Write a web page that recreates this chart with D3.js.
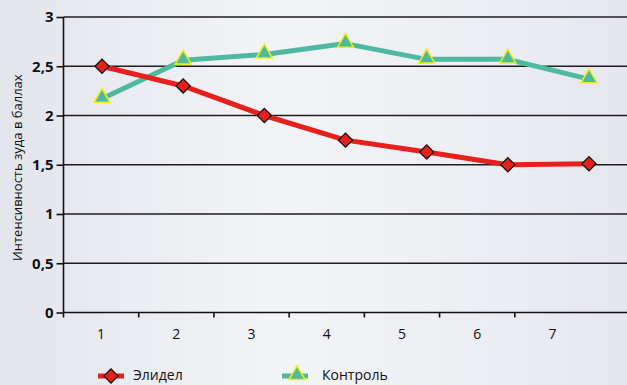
<!DOCTYPE html>
<html>
<head>
<meta charset="utf-8">
<script src="https://cdn.jsdelivr.net/npm/d3@7"></script>
<style>
  html, body { margin: 0; padding: 0; overflow: hidden; }
  svg { display: block; font-family: "Open Sans", "Noto Sans", sans-serif; }
</style>
</head>
<body>
<svg id="chart" width="627" height="385"></svg>
<script>
// Days of observation
const categories = [1, 2, 3, 4, 5, 6, 7];
// Itch intensity, points
const elidel  = [2.5, 2.3, 2.0, 1.75, 1.63, 1.5, 1.51];
const control = [2.17, 2.56, 2.62, 2.73, 2.57, 2.57, 2.37];
const yTicks = [0, 0.5, 1, 1.5, 2, 2.5, 3];
const yTickLabels = ["0", "0,5", "1", "1,5", "2", "2,5", "3"];
const seriesNames = ["Элидел", "Контроль"];

const W = 627, H = 385;
const svg = d3.select("#chart");

// background
const defs = svg.append("defs");
const bg = defs.append("linearGradient").attr("id", "bg").attr("x1", 0).attr("x2", 1).attr("y1", 0).attr("y2", 0);
bg.append("stop").attr("offset", "0%").attr("stop-color", "#e3e5ec");
bg.append("stop").attr("offset", "45%").attr("stop-color", "#f2f4f7");
bg.append("stop").attr("offset", "75%").attr("stop-color", "#eceef3");
bg.append("stop").attr("offset", "100%").attr("stop-color", "#e6e7ee");
svg.append("rect").attr("width", W).attr("height", H).attr("fill", "url(#bg)");

const plotLeft = 63.5, plotRight = 627, plotTop = 17, plotBottom = 312.5;

const y = d3.scaleLinear().domain([0, 3]).range([plotBottom, plotTop]);
// category bands for the axis labels
const xBand = d3.scaleBand().domain(categories).range([plotLeft, 590]);
// positions of the data points
const xPt = d3.scalePoint().domain(categories).range([102, 589]);

// horizontal grid lines
svg.append("g").selectAll("line").data(yTicks.slice(1)).join("line")
  .attr("x1", plotLeft).attr("x2", plotRight)
  .attr("y1", d => y(d)).attr("y2", d => y(d))
  .attr("stroke", "#1e1e1e").attr("stroke-width", 1.6);

// y axis
const yAxis = d3.axisLeft(y).tickValues(yTicks)
  .tickFormat((d, i) => yTickLabels[i]).tickSize(7).tickPadding(3);
const gy = svg.append("g").attr("transform", `translate(${plotLeft},0)`).call(yAxis);
gy.select(".domain").attr("stroke", "#111").attr("stroke-width", 1.6).attr("d", `M0,${plotBottom}V${plotTop}`);
gy.selectAll(".tick line").attr("stroke", "#111").attr("stroke-width", 1.6);
gy.selectAll(".tick text").attr("font-size", 15).attr("font-weight", "bold").attr("fill", "#111")
  .attr("font-family", "'Open Sans', sans-serif");

// x axis
const gx = svg.append("g").attr("transform", `translate(0,${plotBottom})`);
gx.append("line").attr("x1", plotLeft).attr("x2", plotRight).attr("stroke", "#111").attr("stroke-width", 1.6);
gx.selectAll("line.tk").data(categories).join("line").attr("class", "tk")
  .attr("x1", d => xBand(d)).attr("x2", d => xBand(d))
  .attr("y1", 0).attr("y2", 5).attr("stroke", "#111").attr("stroke-width", 1.6);
gx.selectAll("text").data(categories).join("text")
  .attr("x", d => xBand(d) + xBand.bandwidth() / 2)
  .attr("y", 26).attr("text-anchor", "middle")
  .attr("font-size", 14).attr("fill", "#111").text(d => d);

// y axis title
svg.append("text")
  .attr("transform", `translate(22,${(plotTop + plotBottom) / 2 + 3}) rotate(-90)`)
  .attr("text-anchor", "middle").attr("font-size", 13).attr("fill", "#111")
  .text("Интенсивность зуда в баллах");

const red = "#e8201c", teal = "#4fb9a0";
const line = d3.line().x((d, i) => xPt(categories[i])).y(d => y(d));

svg.append("path").datum(control).attr("d", line)
  .attr("fill", "none").attr("stroke", teal).attr("stroke-width", 5).attr("stroke-linejoin", "round");
svg.append("path").datum(elidel).attr("d", line)
  .attr("fill", "none").attr("stroke", red).attr("stroke-width", 5).attr("stroke-linejoin", "round");

const tri = d3.symbol().type(d3.symbolTriangle).size(110);
const dia = d3.symbol().type(d3.symbolSquare).size(100);

function triMarker(g, cx, cy) {
  g.append("path").attr("d", tri()).attr("transform", `translate(${cx},${cy - 1})`)
    .attr("fill", teal).attr("stroke", "#f2ee10").attr("stroke-width", 1.5);
}
function diaMarker(g, cx, cy) {
  g.append("path").attr("d", dia()).attr("transform", `translate(${cx},${cy}) rotate(45)`)
    .attr("fill", red).attr("stroke", "#111").attr("stroke-width", 1.3);
}

const mk = svg.append("g");
control.forEach((v, i) => triMarker(mk, xPt(categories[i]), y(v)));
elidel.forEach((v, i) => diaMarker(mk, xPt(categories[i]), y(v)));

// legend
const lg = svg.append("g");
lg.append("line").attr("x1", 98).attr("x2", 124).attr("y1", 376).attr("y2", 376)
  .attr("stroke", red).attr("stroke-width", 5);
diaMarker(lg, 111, 376);
lg.append("text").attr("x", 133).attr("y", 380).attr("font-size", 14).attr("fill", "#111").text(seriesNames[0]);
lg.append("line").attr("x1", 282).attr("x2", 308).attr("y1", 376).attr("y2", 376)
  .attr("stroke", teal).attr("stroke-width", 5);
triMarker(lg, 297, 376);
lg.append("text").attr("x", 322).attr("y", 380).attr("font-size", 14).attr("fill", "#111").text(seriesNames[1]);
</script>
</body>
</html>
